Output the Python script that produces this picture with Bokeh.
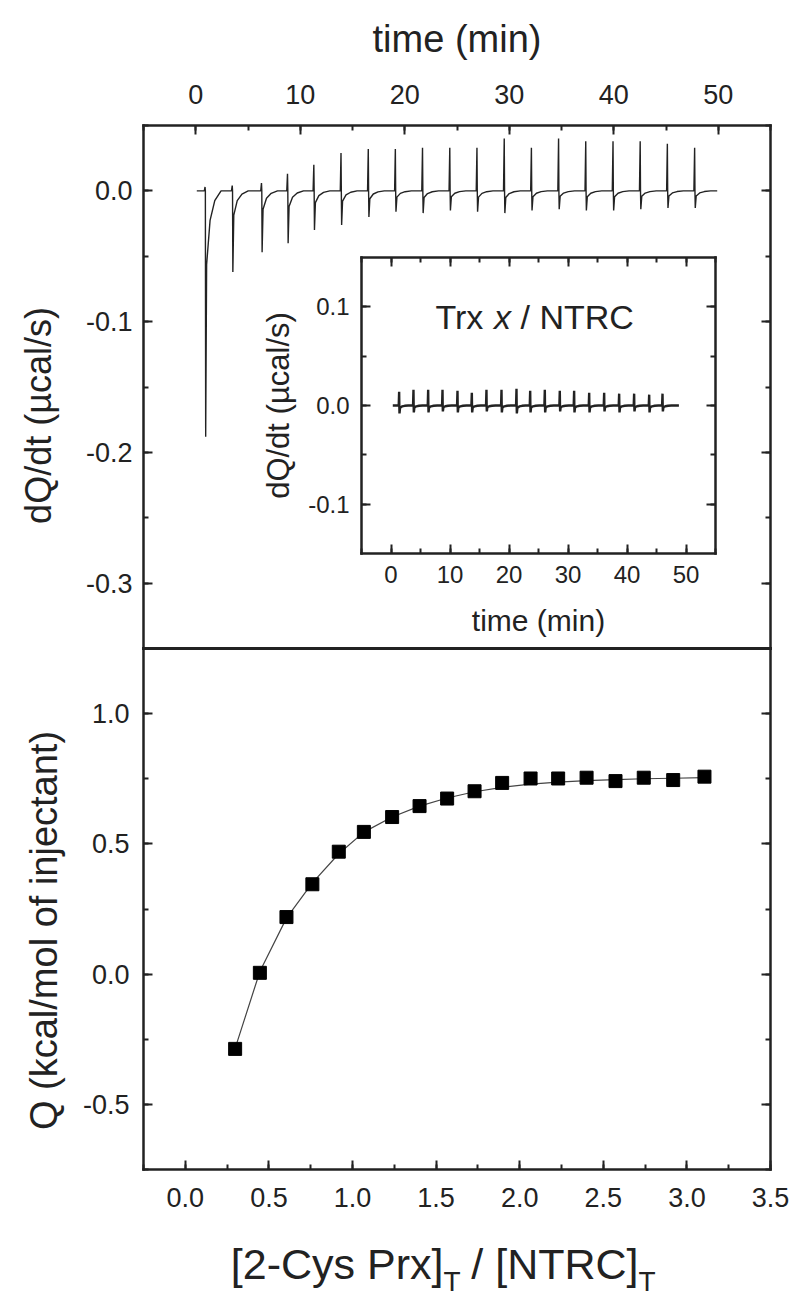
import math
from bokeh.plotting import figure
from bokeh.models import (LinearAxis, Range1d, SingleIntervalTicker,
                          NumeralTickFormatter, Label)
from bokeh.embed import file_html
from bokeh.resources import INLINE

# ---------------- data ----------------
# top panel: raw ITC thermogram (2-Cys Prx into NTRC)
inj_time = [0.92, 3.52, 6.32, 8.81, 11.33, 13.93, 16.54, 19.13, 21.73, 24.34,
            26.94, 29.55, 32.15, 34.75, 37.35, 39.96, 42.56, 45.16, 47.77]
inj_up = [0.003, 0.004, 0.006, 0.013, 0.020, 0.029, 0.032, 0.032, 0.033, 0.033,
          0.033, 0.040, 0.033, 0.040, 0.038, 0.038, 0.038, 0.036, 0.033]
inj_down = [-0.188, -0.062, -0.047, -0.040, -0.030, -0.026, -0.020, -0.016, -0.017, -0.015,
            -0.016, -0.017, -0.015, -0.014, -0.015, -0.015, -0.014, -0.013, -0.013]
trace_span = [0.1, 49.9]

# inset: Trx x / NTRC control titration
inset_time = [1.41, 3.84, 6.33, 8.76, 11.30, 13.73, 16.21, 18.76, 21.30, 23.62,
              26.10, 28.64, 31.07, 33.62, 36.16, 38.70, 41.24, 43.79, 46.05]
inset_up = [0.014, 0.016, 0.016, 0.016, 0.015, 0.013, 0.016, 0.016, 0.017, 0.015,
            0.016, 0.015, 0.015, 0.013, 0.013, 0.012, 0.012, 0.011, 0.012]
inset_down = [-0.008, -0.007, -0.007, -0.006, -0.007, -0.007, -0.006, -0.007, -0.008, -0.007,
              -0.007, -0.006, -0.007, -0.007, -0.006, -0.007, -0.006, -0.007, -0.006]
inset_span = [0.3, 48.8]

# bottom panel: integrated heats and fit
ratio = [0.298, 0.446, 0.605, 0.760, 0.918, 1.068, 1.237, 1.401, 1.566, 1.730,
         1.895, 2.065, 2.230, 2.400, 2.573, 2.742, 2.918, 3.105]
q_obs = [-0.287, 0.005, 0.219, 0.345, 0.470, 0.546, 0.603, 0.645, 0.674, 0.702,
         0.734, 0.751, 0.751, 0.754, 0.741, 0.754, 0.745, 0.758]
q_fit = [-0.285, 0.010, 0.215, 0.350, 0.462, 0.545, 0.603, 0.645, 0.676, 0.700,
         0.717, 0.729, 0.737, 0.743, 0.747, 0.750, 0.752, 0.754]

# ---------------- layout / styling ----------------
FONT = "Liberation Sans"
INK = "#222222"
W, H = 795, 1296
MID = 0.3465   # (ascent - descent) / 2 of the font, in em: baseline -> box middle

# panel boxes in page pixels: (left, right, top, bottom) and their data extents
TOP_BOX, TOP_X, TOP_Y = (143, 770, 125, 648), (-5.0, 55.0), (-0.35, 0.05)
INS_BOX, INS_X, INS_Y = (361, 715, 257, 553), (-5.0, 55.0), (-0.15, 0.15)
BOT_BOX, BOT_X, BOT_Y = (143, 770, 648, 1169), (-0.25, 3.5), (-0.75, 1.25)

# peak template (display shape of each injection around its extremes)
PEAK_DT = [-0.10, -0.03, 0.0, 0.03, 0.12, 0.45, 0.9, 1.5]


def build_trace(span, times, ups, downs):
    xs, ys = [span[0]], [0.0]
    for t, u, d in zip(times, ups, downs):
        xs += [t + dt for dt in PEAK_DT]
        ys += [0.0, u, 0.0, d, 0.3 * d, 0.12 * d, 0.04 * d, 0.0]
    xs.append(span[1])
    ys.append(0.0)
    return xs, ys


p = figure(width=W, height=H, x_range=Range1d(0, W), y_range=Range1d(H, 0),
           x_axis_location=None, y_axis_location=None, min_border=0,
           output_backend="svg", toolbar_location=None)
p.grid.visible = False
p.outline_line_color = None

xr_map, yr_map = {}, {}


def add_ranges(name, box, xr, yr):
    L, R, T, B = box
    sx = (xr[1] - xr[0]) / (R - L)
    sy = (yr[1] - yr[0]) / (B - T)
    xr_map[name] = Range1d(xr[0] - L * sx, xr[1] + (W - R) * sx)
    yr_map[name] = Range1d(yr[0] - (H - B) * sy, yr[1] + T * sy)


add_ranges("top", TOP_BOX, TOP_X, TOP_Y)
add_ranges("ins", INS_BOX, INS_X, INS_Y)
add_ranges("bot", BOT_BOX, BOT_X, BOT_Y)
p.extra_x_ranges = xr_map
p.extra_y_ranges = yr_map


def add_axis(side, name, loc, bounds, interval, lab_px=27, lab_stand=0, labels=True,
             title=None, title_px=None, title_stand=0, fmt=None, ticks=True, lw=2.5):
    ax = LinearAxis(x_range_name=name, y_range_name=name, fixed_location=loc, bounds=bounds,
                    ticker=SingleIntervalTicker(interval=interval, num_minor_ticks=2))
    if fmt:
        ax.formatter = NumeralTickFormatter(format=fmt)
    ax.axis_line_color = INK
    ax.axis_line_width = lw
    ax.axis_line_cap = "square"
    ax.major_tick_in = 9 if ticks else 0
    ax.major_tick_out = 0
    ax.minor_tick_in = 5 if ticks else 0
    ax.minor_tick_out = 0
    ax.major_tick_line_color = INK if ticks else None
    ax.minor_tick_line_color = INK if ticks else None
    ax.major_tick_line_width = 2
    ax.minor_tick_line_width = 2
    ax.major_label_text_font = FONT
    ax.major_label_standoff = lab_stand
    if labels:
        ax.major_label_text_color = INK
        ax.major_label_text_font_size = f"{lab_px}px"
    else:
        ax.major_label_text_color = None
        ax.major_label_text_font_size = "1px"
    if title:
        ax.axis_label = title
        ax.axis_label_text_font = FONT
        ax.axis_label_text_font_size = f"{title_px}px"
        ax.axis_label_text_font_style = "normal"
        ax.axis_label_text_color = INK
        ax.axis_label_standoff = title_stand
    p.add_layout(ax, side)
    return ax


# ---- top panel frame and axes
add_axis("above", "top", TOP_Y[1], TOP_X, 10, 27, 22, title="time (min)", title_px=38,
         title_stand=22)
add_axis("left", "top", TOP_X[0], TOP_Y, 0.1, 27, 11, fmt="0.0")
add_axis("right", "top", TOP_X[1], TOP_Y, 0.1, labels=False)
add_axis("below", "top", TOP_Y[0], TOP_X, 10, labels=False, ticks=False, lw=3)

tx, ty = build_trace(trace_span, inj_time, inj_up, inj_down)
p.line(tx, ty, line_color=INK, line_width=1.4, x_range_name="top", y_range_name="top")

# ---- inset
add_axis("below", "ins", INS_Y[0], INS_X, 10, 24, 12, title="time (min)", title_px=30,
         title_stand=18)
add_axis("left", "ins", INS_X[0], INS_Y, 0.1, 24, 12, title="dQ/dt (µcal/s)", title_px=31,
         title_stand=9, fmt="0.0")
add_axis("above", "ins", INS_Y[1], INS_X, 10, labels=False)
add_axis("right", "ins", INS_X[1], INS_Y, 0.1, labels=False)

ix_, iy_ = build_trace(inset_span, inset_time, inset_up, inset_down)
p.line(ix_, iy_, line_color=INK, line_width=2.4, x_range_name="ins", y_range_name="ins")

# inset caption, page position of its baseline: x 435, y 328
INS_FS = 34
cap_y = INS_Y[1] - (328 - MID * INS_FS - INS_BOX[2]) * (INS_Y[1] - INS_Y[0]) / (INS_BOX[3] - INS_BOX[2])
cap_x = INS_X[0] + (435 - INS_BOX[0]) * (INS_X[1] - INS_X[0]) / (INS_BOX[1] - INS_BOX[0])
for txt, off, style in [("Trx", 0, "normal"), ("x", 58.6, "italic"), ("/ NTRC", 85.0, "normal")]:
    p.add_layout(Label(x=cap_x, y=cap_y, x_offset=off, text=txt, x_range_name="ins",
                       y_range_name="ins", text_font=FONT, text_font_size=f"{INS_FS}px",
                       text_font_style=style, text_color=INK, text_baseline="middle",
                       text_align="left"))

# ---- bottom panel
add_axis("below", "bot", BOT_Y[0], BOT_X, 0.5, 27, 18, fmt="0.0")
add_axis("left", "bot", BOT_X[0], BOT_Y, 0.5, 27, 14, fmt="0.0")
add_axis("right", "bot", BOT_X[1], BOT_Y, 0.5, labels=False)

p.line(ratio, q_fit, line_color="#444444", line_width=1.2, x_range_name="bot", y_range_name="bot")
p.scatter(ratio, q_obs, marker="square", size=13, fill_color="black", line_color="black",
          x_range_name="bot", y_range_name="bot")

# ---- titles placed in page pixels
for txt, px, py, fs in [("dQ/dt (µcal/s)", 38, 415, 36),
                        ("Q (kcal/mol of injectant)", 43, 930, 38)]:
    p.add_layout(Label(x=px, y=py, text=txt, angle=math.pi / 2, angle_units="rad",
                       text_font=FONT, text_font_size=f"{fs}px", text_color=INK,
                       text_baseline="middle", text_align="center"))

# x title with subscripts; (text, x, baseline y, size, align)
for txt, px, py, fs, align in [("[2-Cys Prx]", 443, 1278, 43, "right"),
                               ("T", 443, 1291, 28, "left"),
                               ("/ [NTRC]", 638, 1278, 43, "right"),
                               ("T", 638, 1291, 28, "left")]:
    p.add_layout(Label(x=px, y=py - MID * fs, text=txt, text_font=FONT,
                       text_font_size=f"{fs}px", text_color=INK,
                       text_baseline="middle", text_align=align))

open("out.html", "w").write(file_html(p, INLINE))
